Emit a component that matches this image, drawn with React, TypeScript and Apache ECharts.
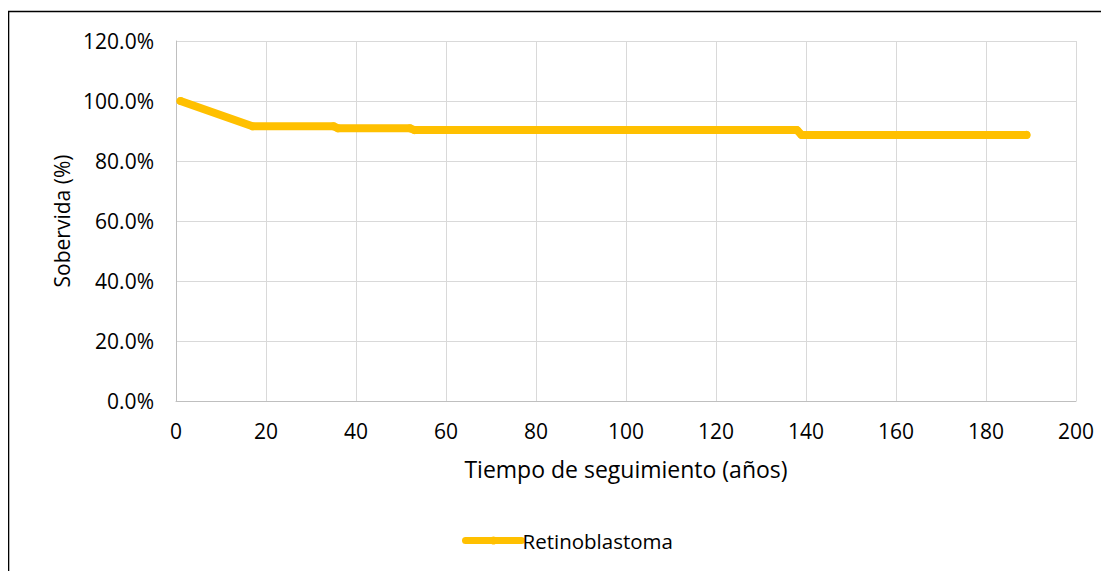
import React, { useEffect, useRef } from "react";
import * as echarts from "echarts";

// Kaplan-Meier survival curve: follow-up time (years) vs survival (%)
const seriesName = "Retinoblastoma";
const timeYears = [1, 17, 35, 36, 52, 53, 138, 139, 189];
const survivalPct = [100, 91.6, 91.6, 90.9, 90.9, 90.3, 90.3, 88.7, 88.7];
const xTicks = { min: 0, max: 200, interval: 20 };
const yTicks = { min: 0, max: 120, interval: 20 };

const FONT = "'Open Sans', 'Noto Sans', sans-serif";

export default function App() {
  const ref = useRef<HTMLDivElement>(null);

  useEffect(() => {
    if (!ref.current) return;
    const chart = echarts.init(ref.current, undefined, { renderer: "svg" });
    const points = timeYears.map((t, i) => [t, survivalPct[i]]);
    chart.setOption({
      animation: false,
      backgroundColor: "#ffffff",
      textStyle: { fontFamily: FONT },
      graphic: [
        {
          type: "rect",
          shape: { x: 0.5, y: 3.5, width: 1300, height: 800 },
          style: { fill: "none", stroke: "#000", lineWidth: 1.6 },
          silent: true,
          z: 100,
        },
      ],
      grid: { left: 168, right: 33, top: 33, bottom: 170 },
      xAxis: {
        type: "value",
        min: xTicks.min,
        max: xTicks.max,
        interval: xTicks.interval,
        name: "Tiempo de seguimiento (años)",
        nameLocation: "middle",
        nameGap: 56,
        nameTextStyle: { fontSize: 23, color: "#000", fontFamily: FONT },
        axisLine: { show: true, lineStyle: { color: "#bfbfbf", width: 1 } },
        axisTick: { show: false },
        axisLabel: { fontSize: 21, color: "#000", margin: 19, fontFamily: FONT },
        splitLine: { show: true, lineStyle: { color: "#d9d9d9", width: 1 } },
      },
      yAxis: {
        type: "value",
        min: yTicks.min,
        max: yTicks.max,
        interval: yTicks.interval,
        name: "Sobervida (%)",
        nameLocation: "middle",
        nameGap: 103,
        nameTextStyle: { fontSize: 21, color: "#000", fontFamily: FONT },
        axisLine: { show: true, lineStyle: { color: "#bfbfbf", width: 1 } },
        axisTick: { show: false },
        axisLabel: {
          fontSize: 21,
          color: "#000",
          margin: 22,
          fontFamily: FONT,
          formatter: (v: number) => v.toFixed(1) + "%",
        },
        splitLine: { show: true, lineStyle: { color: "#d9d9d9", width: 1 } },
      },
      legend: {
        bottom: 15,
        left: 449,
        itemWidth: 56,
        itemHeight: 10,
        itemGap: 10,
        lineStyle: { width: 7, cap: "round" },
        textStyle: { fontSize: 20.5, color: "#000", fontFamily: FONT, padding: [0, 0, 0, -4] },
        data: [seriesName],
      },
      series: [
        {
          name: seriesName,
          type: "line",
          data: points,
          color: "#FFC000",
          symbol: "circle",
          symbolSize: 8,
          showSymbol: true,
          lineStyle: { width: 8, color: "#FFC000", cap: "round", join: "round" },
          itemStyle: { color: "#FFC000" },
        },
      ],
    });
    return () => chart.dispose();
  }, []);

  return <div ref={ref} style={{ width: 1101, height: 563 }} />;
}
